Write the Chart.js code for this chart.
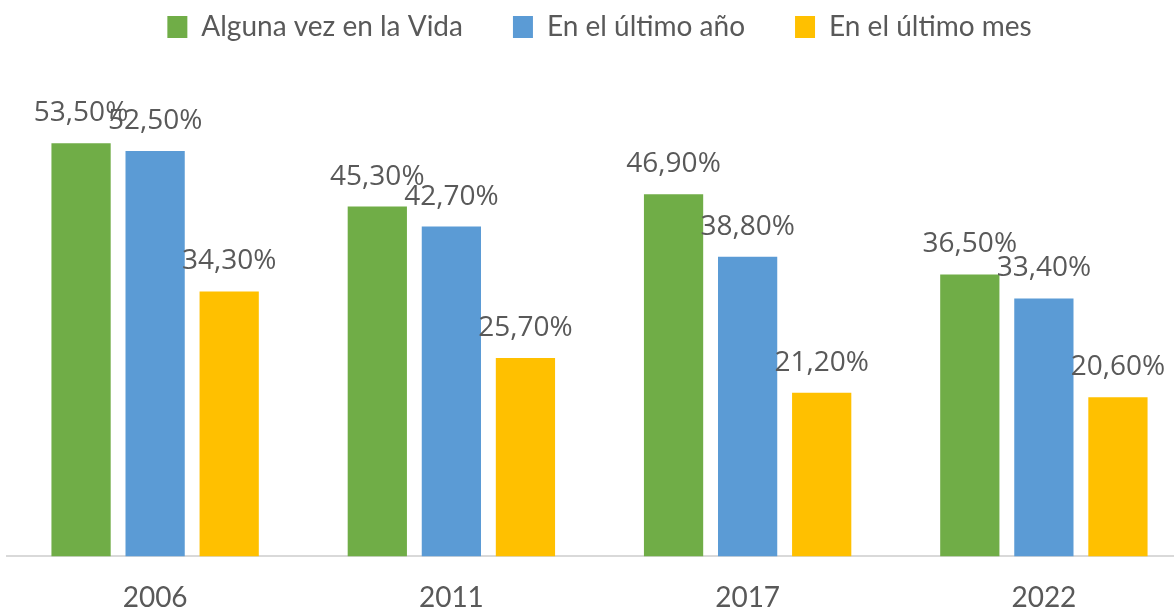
<!DOCTYPE html>
<html>
<head>
<meta charset="utf-8">
<script src="https://cdn.jsdelivr.net/npm/chart.js@4"></script>
<style>
  html, body { margin: 0; padding: 0; background: #fff; overflow: hidden; }
  #wrap { position: relative; width: 1200px; height: 612px; }
</style>
</head>
<body>
<div id="wrap"><canvas id="chart"></canvas></div>
<script>
const years = ["2006", "2011", "2017", "2022"];
const seriesNames = ["Alguna vez en la Vida", "En el último año", "En el último mes"];
const vida = [53.5, 45.3, 46.9, 36.5];
const anio = [52.5, 42.7, 38.8, 33.4];
const mes = [34.3, 25.7, 21.2, 20.6];
const colors = ["#70AD47", "#5B9BD5", "#FFC000"];

const textColor = "#595959";

// draws the value above each bar
const valueLabels = {
    id: "valueLabels",
    afterDatasetsDraw(chart) {
        const ctx = chart.ctx;
        ctx.save();
        ctx.font = "28px 'Open Sans'";
        ctx.fillStyle = textColor;
        ctx.textAlign = "center";
        ctx.textBaseline = "alphabetic";
        chart.data.datasets.forEach((ds, i) => {
            chart.getDatasetMeta(i).data.forEach((bar, j) => {
                const txt = ds.data[j].toFixed(2).replace(".", ",") + "%";
                ctx.fillText(txt, bar.x, bar.y - 22);
            });
        });
        ctx.restore();
    }
};

// push plot area down under legend
const legendSpace = {
    id: "legendSpace",
    beforeInit(chart) {
        const origFit = chart.legend.fit;
        chart.legend.fit = function () {
            origFit.bind(chart.legend)();
            this.height += 42;
        };
    }
};

const ctx = document.getElementById("chart").getContext("2d");
const chart = new Chart(ctx, {
    type: "bar",
    data: {
        labels: years,
        datasets: [
            { label: seriesNames[0], data: vida, backgroundColor: colors[0] },
            { label: seriesNames[1], data: anio, backgroundColor: colors[1] },
            { label: seriesNames[2], data: mes, backgroundColor: colors[2] }
        ]
    },
    options: {
        responsive: true,
        maintainAspectRatio: false,
        animation: false,
        layout: { padding: { left: 7, right: 8, top: -37, bottom: -20 } },
        datasets: {
            bar: { categoryPercentage: 0.75, barPercentage: 0.8 }
        },
        plugins: {
            legend: {
                position: "top",
                labels: {
                    color: textColor,
                    font: { family: "Lato", size: 28 },
                    boxWidth: 20,
                    boxHeight: 22,
                    padding: 50
                }
            },
            tooltip: { enabled: false }
        },
        scales: {
            x: {
                grid: { display: false },
                border: { color: "#D9D9D9", width: 2 },
                ticks: {
                    color: textColor,
                    font: { family: "Lato", size: 28 },
                    padding: 17
                }
            },
            y: {
                display: false,
                min: 0,
                max: 60
            }
        }
    },
    plugins: [valueLabels, legendSpace]
});
</script>
</body>
</html>
